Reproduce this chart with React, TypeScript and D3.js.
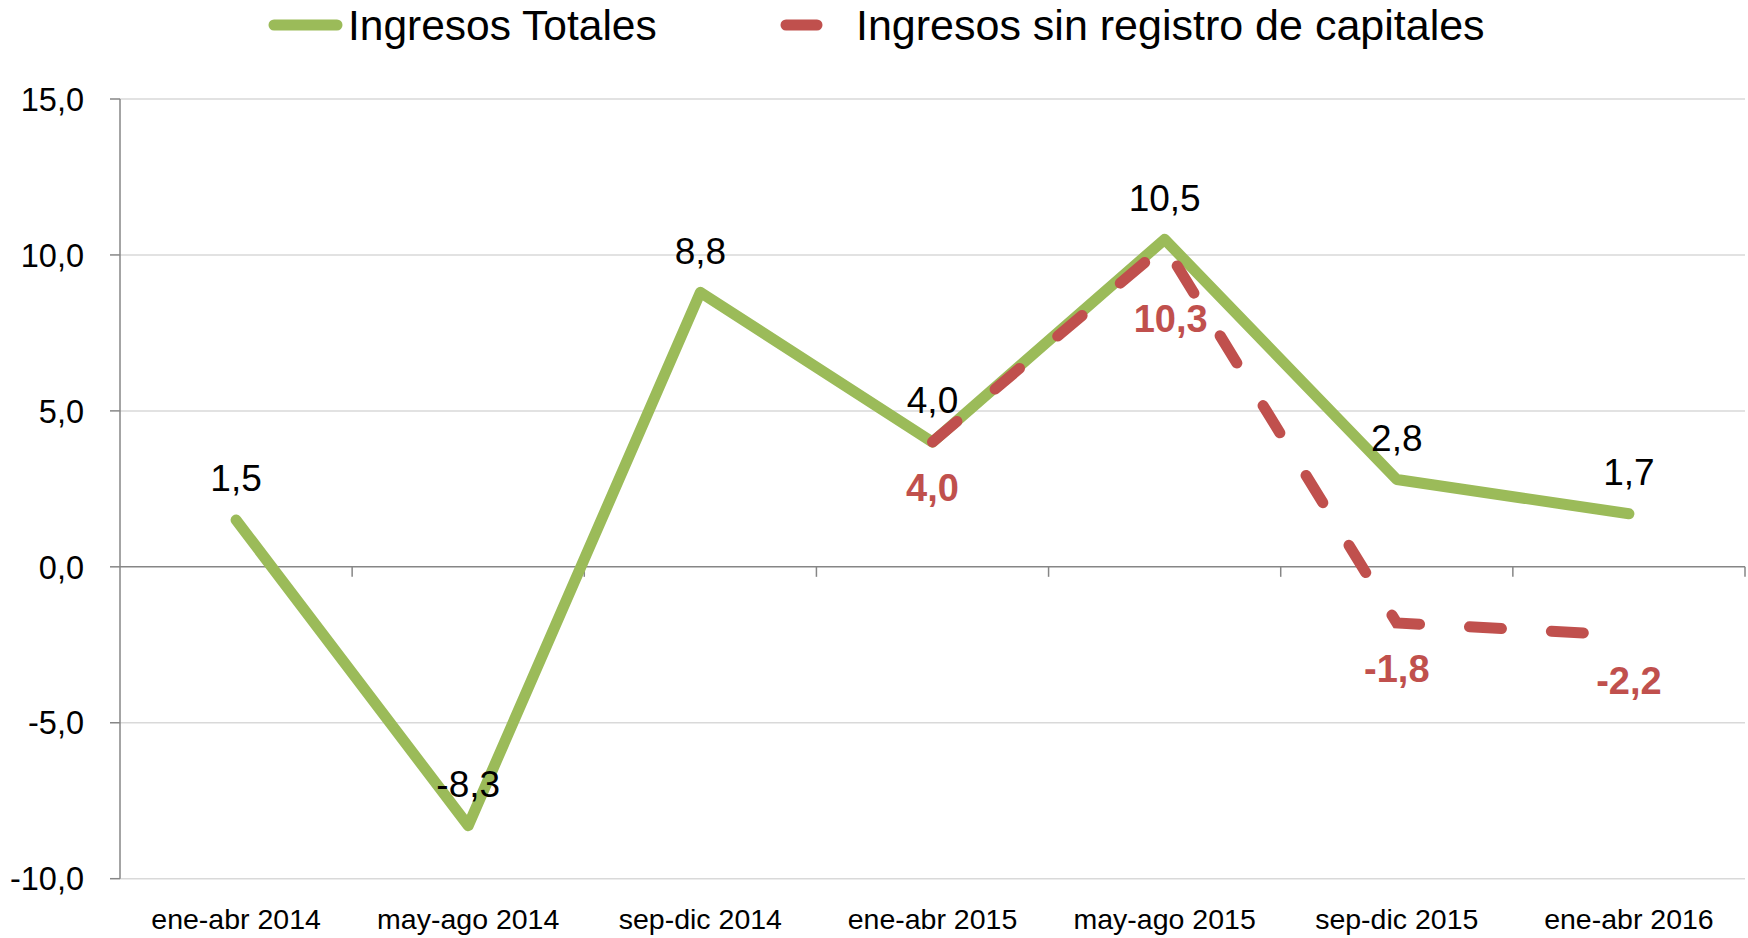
import React from "react";
import * as d3 from "d3";

const categories = ["ene-abr 2014", "may-ago 2014", "sep-dic 2014", "ene-abr 2015", "may-ago 2015", "sep-dic 2015", "ene-abr 2016"];
const totales = [1.5, -8.3, 8.8, 4.0, 10.5, 2.8, 1.7];
const sinCapitales: (number | null)[] = [null, null, null, 4.0, 10.3, -1.8, -2.2];
const yTicks = [-10, -5, 0, 5, 10, 15];
const seriesNames = ["Ingresos Totales", "Ingresos sin registro de capitales"];

const W = 1748, H = 938;
const left = 120, right = 1745, top = 99, bottom = 878.7;
const GREEN = "#9BBB59", RED = "#C0504D";
const FONT = "'Liberation Sans', Arial, sans-serif";
const fmt = (v: number) => v.toFixed(1).replace(".", ",");

export default function App() {
  const x = d3.scaleBand().domain(categories).range([left, right]);
  const y = d3.scaleLinear().domain([-10, 15]).range([bottom, top]);
  const cx = (i: number) => (x(categories[i]) as number) + x.bandwidth() / 2;

  const lineG = d3.line<number>().x((_, i) => cx(i)).y((d) => y(d));
  const redPts = sinCapitales.map((v, i) => ({ v, i })).filter((p) => p.v !== null) as { v: number; i: number }[];
  const lineR = d3.line<{ v: number; i: number }>().x((p) => cx(p.i)).y((p) => y(p.v));

  const redLabelDy: Record<number, number> = { 4: 73 };

  return (
    <svg width={W} height={H} style={{ position: "absolute", left: 0, top: 0, background: "#fff" }}>
      {yTicks.filter((t) => t !== 0).map((t) => (
        <line key={t} x1={left} x2={right} y1={y(t)} y2={y(t)} stroke="#D9D9D9" strokeWidth={1.5} />
      ))}
      <line x1={left} x2={left} y1={top} y2={bottom} stroke="#868686" strokeWidth={1.5} />
      {yTicks.map((t) => (
        <g key={t}>
          <line x1={left - 10} x2={left} y1={y(t)} y2={y(t)} stroke="#868686" strokeWidth={1.5} />
          <text x={84} y={y(t)} dy="0.36em" textAnchor="end" fontFamily={FONT} fontSize={32.5} fill="#000">{fmt(t)}</text>
        </g>
      ))}
      <line x1={left} x2={right} y1={y(0)} y2={y(0)} stroke="#868686" strokeWidth={1.5} />
      {categories.map((c) => (
        <line key={c} x1={(x(c) as number) + x.bandwidth()} x2={(x(c) as number) + x.bandwidth()} y1={y(0)} y2={y(0) + 10} stroke="#868686" strokeWidth={1.5} />
      ))}
      {categories.map((c, i) => (
        <text key={c} x={cx(i)} y={929} textAnchor="middle" fontFamily={FONT} fontSize={28.5} fill="#000">{c}</text>
      ))}
      <path d={lineG(totales) || ""} fill="none" stroke={GREEN} strokeWidth={11} strokeLinecap="round" strokeLinejoin="round" />
      <path d={lineR(redPts) || ""} fill="none" stroke={RED} strokeWidth={11} strokeLinecap="round" strokeDasharray="32 50" />
      {totales.map((v, i) => (
        <text key={i} x={cx(i)} y={y(v) - 42} dy="0.36em" textAnchor="middle" fontFamily={FONT} fontSize={37} fill="#000">{fmt(v)}</text>
      ))}
      {redPts.map((p) => (
        <text key={p.i} x={cx(p.i) + (redLabelDy[p.i] ? 6 : 0)} y={y(p.v) + (redLabelDy[p.i] ?? 45)} dy="0.36em" textAnchor="middle" fontFamily={FONT} fontSize={38} fontWeight="bold" fill={RED}>{fmt(p.v)}</text>
      ))}
      <line x1={274} x2={337} y1={25} y2={25} stroke={GREEN} strokeWidth={11} strokeLinecap="round" />
      <text x={348} y={40} fontFamily={FONT} fontSize={42.5} fill="#000">{seriesNames[0]}</text>
      <line x1={786} x2={817} y1={25} y2={25} stroke={RED} strokeWidth={11} strokeLinecap="round" />
      <text x={856} y={40} fontFamily={FONT} fontSize={43} fill="#000">{seriesNames[1]}</text>
    </svg>
  );
}
